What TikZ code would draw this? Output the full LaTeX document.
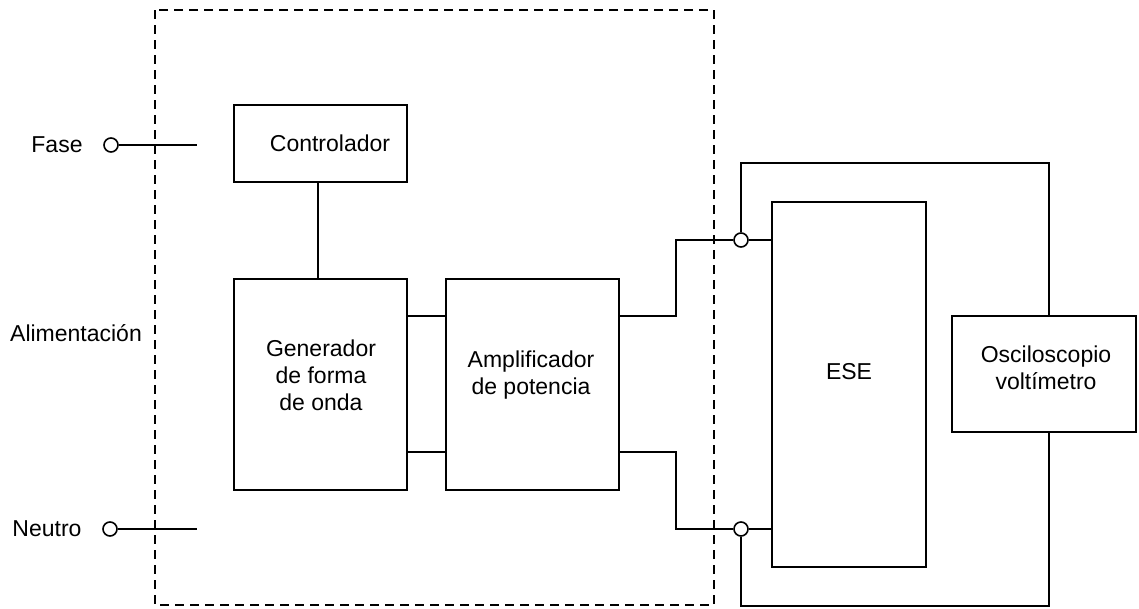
\documentclass[tikz,border=0pt]{standalone}
\usepackage{fontspec}
\setmainfont{Liberation Sans}
\begin{document}
\begin{tikzpicture}[x=1pt,y=-1pt,
  wire/.style={line width=1.6pt,line join=miter},
  blockbox/.style={draw,line width=1.6pt,rectangle,inner sep=0pt},
  txt/.style={font=\fontsize{23}{27}\selectfont,align=center,inner sep=0pt},
  term/.style={draw,line width=1.6pt,circle,minimum size=14pt,inner sep=0pt,fill=white}]
\useasboundingbox (0,0) rectangle (1139,608);
% dashed enclosure
\draw[line width=1.6pt,dash pattern=on 9pt off 6pt] (155,10) rectangle (714,605);
% blocks
\node[blockbox,minimum width=173pt,minimum height=77pt] (ctrl) at (320.5,143.5) {};
\node[txt] (ctrlt) at (330,143) {Controlador};
\node[blockbox,minimum width=173pt,minimum height=211pt] (gen) at (320.5,384.5) {};
\node[txt] (gent) at (321,375) {Generador\\de forma\\de onda};
\node[blockbox,minimum width=173pt,minimum height=211pt] (amp) at (532.5,384.5) {};
\node[txt] (ampt) at (531,375) {Amplificador\\de potencia};
\node[blockbox,minimum width=154pt,minimum height=365pt] (ese) at (849,384.5) {};
\node[txt] (eset) at (849,372) {ESE};
\node[blockbox,minimum width=184pt,minimum height=116pt] (osc) at (1044,374) {};
\node[txt] (osct) at (1046,368) {Osciloscopio\\voltímetro};
% labels
\node[txt] (fase) at (57,145) {Fase};
\node[txt] (alim) at (76,333) {Alimentación};
\node[txt] (neutro) at (47,529) {Neutro};
% terminals
\node[term] (tf) at (111,145) {};
\node[term] (tn) at (110,529) {};
\coordinate (tfe) at (197,145);
\coordinate (tne) at (197,529);
\draw[wire] (tf.east) -- (tfe);
\draw[wire] (tn.east) -- (tne);
% controller to generator
\draw[wire] (ctrl.south -| 318,0) -- (gen.north -| 318,0);
% generator to amplifier
\draw[wire] (gen.east |- 0,316) -- (amp.west |- 0,316);
\draw[wire] (gen.east |- 0,452) -- (amp.west |- 0,452);
% junctions
\node[term] (c1) at (741,240) {};
\node[term] (c2) at (741,529) {};
\draw[wire] (amp.east |- 0,316) -- (676,316) -- (676,240) -- (c1.west);
\draw[wire] (c1.east) -- (ese.west |- c1);
\draw[wire] (amp.east |- 0,452) -- (676,452) -- (676,529) -- (c2.west);
\draw[wire] (c2.east) -- (ese.west |- c2);
% to oscilloscope
\draw[wire] (c1.north) -- (741,163) -- (1049,163) -- (osc.north -| 1049,0);
\draw[wire] (c2.south) -- (741,606) -- (1049,606) -- (osc.south -| 1049,0);
\end{tikzpicture}
\end{document}
